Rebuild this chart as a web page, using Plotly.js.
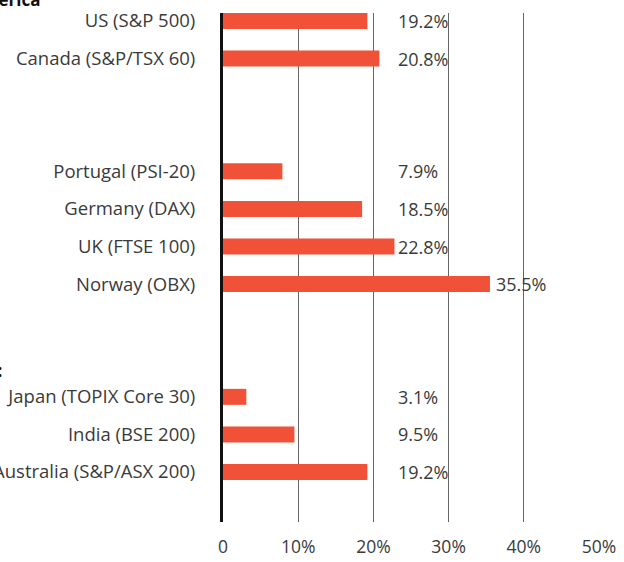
<!DOCTYPE html>
<html>
<head>
<meta charset="utf-8">
<script src="https://cdn.plot.ly/plotly-3.0.1.min.js"></script>
<style>html,body{margin:0;padding:0;background:#fff;}#chart{width:624px;height:562px;}</style>
</head>
<body>
<div id="chart"></div>
<script>
// Rows top to bottom; blank keys are gaps between groups
const categories = ["US (S&P 500)", "Canada (S&P/TSX 60)", "gap1", "gap2",
  "Portugal (PSI-20)", "Germany (DAX)", "UK (FTSE 100)", "Norway (OBX)", "gap3", "gap4",
  "Japan (TOPIX Core 30)", "India (BSE 200)", "Australia (S&P/ASX 200)"];
const tickLabels = ["US (S&P 500)", "Canada (S&P/TSX 60)", "", "",
  "Portugal (PSI-20)", "Germany (DAX)", "UK (FTSE 100)", "Norway (OBX)", "", "",
  "Japan (TOPIX Core 30)", "India (BSE 200)", "Australia (S&P/ASX 200)"];
const values = [19.2, 20.8, null, null, 7.9, 18.5, 22.8, 35.5, null, null, 3.1, 9.5, 19.2];
const groupHeaders = ["North America", "Europe:", "Asia Pacific:"];
const xTickVals = [0, 10, 20, 30, 40, 50];
const xTickText = ["0", "10%", "20%", "30%", "40%", "50%"];

const FONT = "'Open Sans', Lato, sans-serif";
const labelMin = 23.1;

const annotations = [];
values.forEach((v, i) => {
  if (v === null) return;
  annotations.push({
    x: Math.max(v, labelMin), y: i, xref: "x", yref: "y",
    text: v.toFixed(1) + "%", showarrow: false, xanchor: "left", yanchor: "middle",
    xshift: v > labelMin ? 4 : -1,
    font: {family: FONT, size: 18, color: "#3a3a3a"}
  });
});
// group headers sit in the left margin (partly outside the visible page, as in the source)
const headerPos = [[-0.482, 1.0275], [-0.606, 0.77], [-0.582, 0.297]];
groupHeaders.forEach((h, k) => {
  annotations.push({
    x: headerPos[k][0], y: headerPos[k][1], xref: "paper", yref: "paper",
    text: "<b>" + h + "</b>", showarrow: false, xanchor: "right", yanchor: "middle",
    font: {family: FONT, size: 17, color: "#111"}
  });
});

const trace = {
  type: "bar", orientation: "h",
  x: values, y: categories,
  marker: {color: "#F15237"},
  width: 0.426,
  hoverinfo: "none"
};

const layout = {
  width: 624, height: 562,
  margin: {l: 223, r: 25, t: 13, b: 40, pad: 0},
  paper_bgcolor: "#fff", plot_bgcolor: "#fff",
  showlegend: false,
  font: {family: FONT, size: 17, color: "#3a3a3a"},
  xaxis: {
    range: [0, 50], tickvals: xTickVals, ticktext: xTickText,
    showgrid: true, gridcolor: "#666", gridwidth: 1, zeroline: false,
    ticks: "outside", ticklen: 9, tickcolor: "rgba(0,0,0,0)",
    tickfont: {family: FONT, size: 17.5, color: "#3a3a3a"}, fixedrange: true
  },
  yaxis: {
    type: "category", categoryorder: "array", categoryarray: categories,
    tickvals: categories, ticktext: tickLabels,
    range: [13.33, -0.213],
    showgrid: false, zeroline: false,
    showline: true, linecolor: "#111", linewidth: 3,
    ticks: "outside", ticklen: 21, tickcolor: "rgba(0,0,0,0)",
    tickfont: {family: FONT, size: 18.5, color: "#3a3a3a"}, fixedrange: true
  },
  annotations: annotations
};

Plotly.newPlot("chart", [trace], layout, {displayModeBar: false, staticPlot: true});
</script>
</body>
</html>
